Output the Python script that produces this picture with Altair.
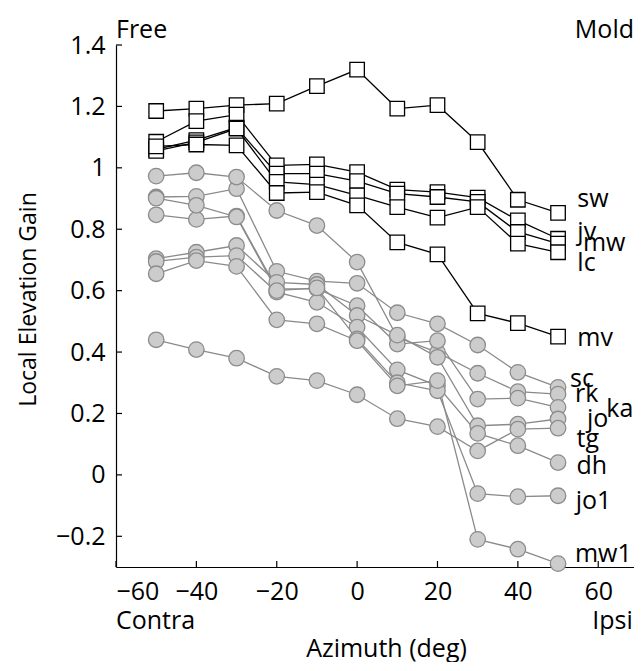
import altair as alt
import pandas as pd

azimuth = [-50, -40, -30, -20, -10, 0, 10, 20, 30, 40, 50]

# Free-field (square) series
free_names = ["sw", "jv", "mw", "lc", "mv"]
free_values = [
    [1.185, 1.193, 1.204, 1.209, 1.266, 1.320, 1.193, 1.204, 1.084, 0.896, 0.853],
    [1.085, 1.152, 1.173, 1.008, 1.011, 0.986, 0.929, 0.921, 0.903, 0.829, 0.769],
    [1.060, 1.090, 1.131, 0.981, 0.981, 0.957, 0.916, 0.905, 0.889, 0.791, 0.753],
    [1.055, 1.083, 1.128, 0.954, 0.945, 0.910, 0.872, 0.838, 0.872, 0.753, 0.725],
    [1.070, 1.076, 1.073, 0.918, 0.921, 0.878, 0.757, 0.718, 0.526, 0.494, 0.450],
]

# Mold (circle) series
mold_names = ["sc", "rk", "ka", "jo", "dh", "tg", "jo1", "mw1"]
mold_values = [
    [0.905, 0.907, 0.932, 0.663, 0.631, 0.624, 0.528, 0.492, 0.423, 0.334, 0.285],
    [0.973, 0.984, 0.970, 0.861, 0.812, 0.693, 0.448, 0.399, 0.331, 0.271, 0.263],
    [0.847, 0.832, 0.843, 0.606, 0.606, 0.551, 0.426, 0.437, 0.247, 0.250, 0.220],
    [0.704, 0.725, 0.747, 0.627, 0.620, 0.519, 0.455, 0.383, 0.160, 0.165, 0.182],
    [0.695, 0.709, 0.714, 0.595, 0.562, 0.481, 0.342, 0.290, 0.135, 0.095, 0.040],
    [0.440, 0.408, 0.380, 0.321, 0.307, 0.261, 0.183, 0.157, 0.078, 0.149, 0.152],
    [0.901, 0.878, 0.840, 0.600, 0.609, 0.443, 0.300, 0.274, -0.061, -0.071, -0.068],
    [0.655, 0.698, 0.679, 0.505, 0.492, 0.437, 0.290, 0.307, -0.210, -0.242, -0.289],
]

# Series name labels (data coordinates)
label_text = ["sw", "jv", "mw", "lc", "mv", "sc", "rk", "ka", "jo", "tg", "dh", "jo1", "mw1"]
label_x = [54.8, 54.8, 56.2, 54.8, 54.8, 53.0, 54.2, 62.0, 57.2, 54.6, 54.6, 54.4, 54.2]
label_y = [0.900, 0.790, 0.754, 0.690, 0.447, 0.313, 0.264, 0.215, 0.183, 0.117, 0.029, -0.085, -0.258]

corner_text = ["Free", "Mold", "Contra", "Ipsi"]
corner_x = [-60.0, 68.9, -60.0, 68.6]
corner_y = [1.449, 1.449, -0.476, -0.476]
corner_align = ["left", "right", "left", "right"]

x_ticks = [-60, -40, -20, 0, 20, 40, 60]
y_ticks = [-0.2, 0, 0.2, 0.4, 0.6, 0.8, 1.0, 1.2, 1.4]

FONT = "Open Sans"
W, H = 518, 522

free_df = pd.DataFrame(
    [{"name": n, "az": a, "gain": v} for n, vals in zip(free_names, free_values) for a, v in zip(azimuth, vals)]
)
mold_df = pd.DataFrame(
    [{"name": n, "az": a, "gain": v} for n, vals in zip(mold_names, mold_values) for a, v in zip(azimuth, vals)]
)
labels_df = pd.DataFrame({"t": label_text, "x": label_x, "y": label_y})
corner_df = pd.DataFrame({"t": corner_text, "x": corner_x, "y": corner_y, "al": corner_align})
xt_df = pd.DataFrame({"v": x_ticks})
yt_df = pd.DataFrame({"v": y_ticks})

xscale = alt.Scale(domain=[-60, 68.9], nice=False, zero=False)
yscale = alt.Scale(domain=[-0.3, 1.4], nice=False, zero=False)

x_axis = alt.Axis(
    values=x_ticks, format="~d", ticks=False, grid=False, domainColor="black", domainWidth=1.2,
    labelFont=FONT, labelFontSize=25, labelColor="black", labelPadding=12,
    title="Azimuth (deg)", titleFont=FONT, titleFontSize=25, titleFontWeight="normal", titleColor="black",
    titleX=270, titleY=81, titleBaseline="middle", titleAlign="center",
)
y_axis = alt.Axis(
    values=y_ticks, format="~g", ticks=False, grid=False, domainColor="black", domainWidth=1.2,
    labelFont=FONT, labelFontSize=25, labelColor="black", labelPadding=11,
    title="Local Elevation Gain", titleFont=FONT, titleFontSize=23, titleFontWeight="normal", titleColor="black",
    titleX=-88, titleY=254, titleBaseline="middle", titleAlign="center", titleAngle=-90,
)

mold_lines = alt.Chart(mold_df).mark_line(color="#8a8a8a", strokeWidth=1.3).encode(
    x=alt.X("az:Q", scale=xscale, axis=x_axis),
    y=alt.Y("gain:Q", scale=yscale, axis=y_axis),
    detail="name:N",
)
mold_pts = alt.Chart(mold_df).mark_point(
    shape="circle", filled=True, fill="#cccccc", stroke="#8c8c8c", strokeWidth=1.3, size=240, opacity=1
).encode(x="az:Q", y="gain:Q")

free_lines = alt.Chart(free_df).mark_line(color="black", strokeWidth=1.3).encode(
    x="az:Q", y="gain:Q", detail="name:N"
)
free_pts = alt.Chart(free_df).mark_point(
    shape="square", filled=True, fill="white", stroke="black", strokeWidth=1.3, size=210, opacity=1
).encode(x="az:Q", y="gain:Q")

name_labels = alt.Chart(labels_df).mark_text(
    font=FONT, fontSize=25, color="black", align="left", baseline="middle"
).encode(x="x:Q", y="y:Q", text="t:N")

corner_left = alt.Chart(corner_df).transform_filter("datum.al == 'left'").mark_text(
    font=FONT, fontSize=25, color="black", align="left", baseline="middle"
).encode(x="x:Q", y="y:Q", text="t:N")
corner_right = alt.Chart(corner_df).transform_filter("datum.al == 'right'").mark_text(
    font=FONT, fontSize=25, color="black", align="right", baseline="middle"
).encode(x="x:Q", y="y:Q", text="t:N")

x_tick_marks = alt.Chart(xt_df).mark_rule(color="black", strokeWidth=1.2).encode(
    x="v:Q", y=alt.value(H - 6), y2=alt.value(H)
)
y_tick_marks = alt.Chart(yt_df).mark_rule(color="black", strokeWidth=1.2).encode(
    y="v:Q", x=alt.value(0), x2=alt.value(6)
)

chart = alt.layer(
    mold_lines, mold_pts, free_lines, free_pts, name_labels, corner_left, corner_right,
    x_tick_marks, y_tick_marks,
).properties(
    width=W, height=H,
    autosize=alt.AutoSizeParams(type="none"),
    padding={"left": 108, "top": 37, "right": 0, "bottom": 95},
    background="white",
).configure_view(stroke=None)

chart.save("out.html", embed_options={"renderer": "svg", "actions": False})
